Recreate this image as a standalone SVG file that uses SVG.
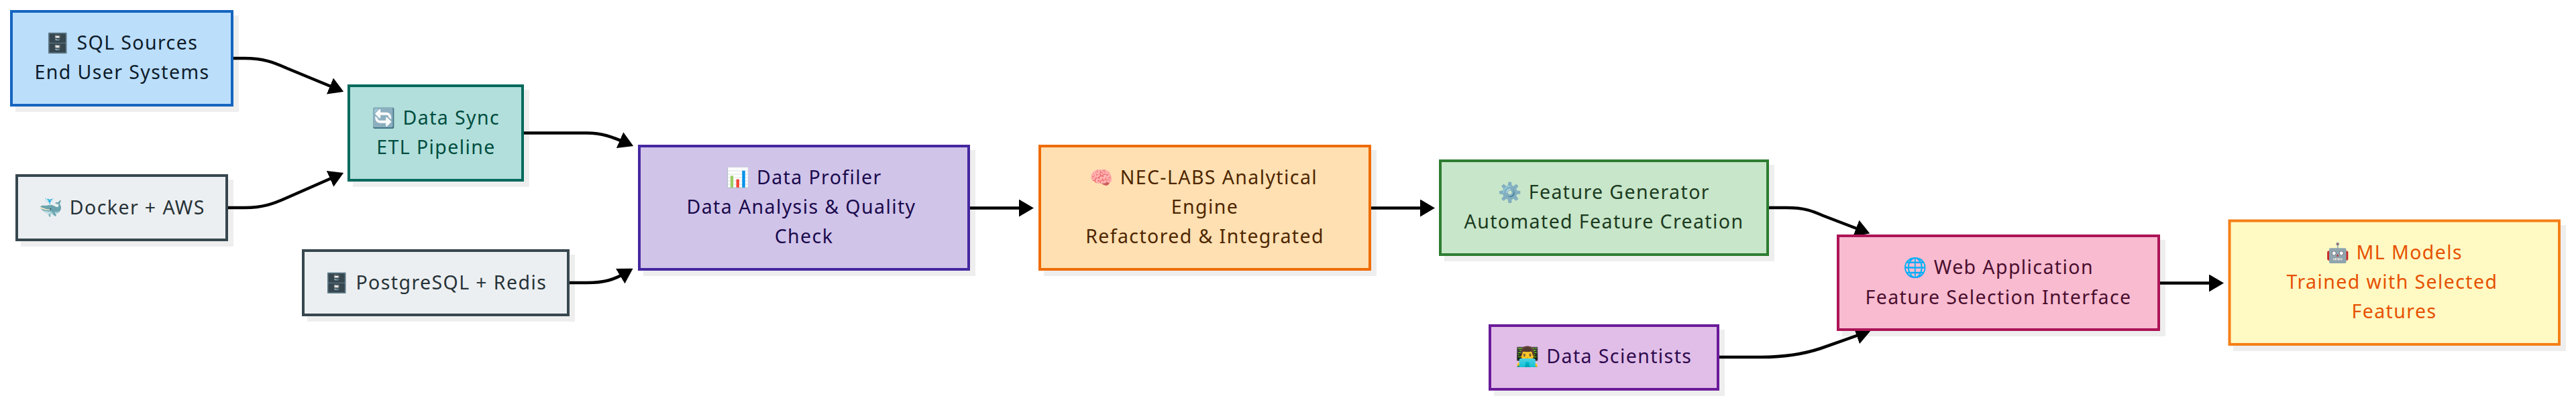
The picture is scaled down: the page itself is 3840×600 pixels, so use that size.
<svg xmlns="http://www.w3.org/2000/svg" width="3840" height="600" viewBox="0 0 3840 600">
<defs>
<style>
text{font-family:"Noto Sans","Noto Color Emoji",sans-serif;font-size:28.500px;letter-spacing:1.400px;text-anchor:middle}
.s{fill:#000;fill-opacity:.065}
rect.b{stroke-width:4}
.e{fill:none;stroke:#000;stroke-width:4.500;marker-end:url(#a)}
</style>
<marker id="a" markerUnits="userSpaceOnUse" viewBox="0 0 22 26" refX="12" refY="13" markerWidth="22" markerHeight="26" orient="auto"><path d="M0 0L22 13L0 26Z" fill="#000"/></marker>
</defs>
<rect width="3840" height="600" fill="#fff"/>
<g id="connectors">
<path class="e" d="M348 87H365C392 87 408 93 428 102L503 133"/>
<path class="e" d="M340 310H365C392 310 408 304 428 295L503 262"/>
<path class="e" d="M781 198.500H875C897 198.500 912 204 935 214"/>
<path class="e" d="M849 422H875C900 422 915 418 935 406"/>
<path class="e" d="M1446 310.500H1531"/>
<path class="e" d="M2044 310.500H2129"/>
<path class="e" d="M2637 310H2663C2690 310 2702 315 2718 322L2778 345"/>
<path class="e" d="M2563 533H2625C2660 533 2690 528 2714 520L2779 497"/>
<path class="e" d="M3220 422.500H3305"/>
</g>
<g id="n1"><rect class="s" x="23" y="23" width="333" height="144"/><rect class="b" x="17" y="17" width="329" height="140" fill="#BBDEFB" stroke="#1565C0"/><text x="182" y="74" fill="#0D1B2A">🗄️ SQL Sources</text><text x="182" y="118" fill="#0D1B2A">End User Systems</text></g>
<g id="n2"><rect class="s" x="526" y="134" width="263" height="145"/><rect class="b" x="520" y="128" width="259" height="141" fill="#B2DFDB" stroke="#00695C"/><text x="650" y="186" fill="#004D40">🔄 Data Sync</text><text x="650" y="230" fill="#004D40">ETL Pipeline</text></g>
<g id="n3"><rect class="s" x="31" y="268" width="317" height="100"/><rect class="b" x="25" y="262" width="313" height="96" fill="#ECEFF1" stroke="#37474F"/><text x="182" y="320" fill="#263238">🐳 Docker + AWS</text></g>
<g id="n4"><rect class="s" x="458" y="380" width="399" height="100"/><rect class="b" x="452" y="374" width="395" height="96" fill="#ECEFF1" stroke="#37474F"/><text x="650" y="432" fill="#263238">🗄️ PostgreSQL + Redis</text></g>
<g id="n5"><rect class="s" x="959" y="224" width="495" height="188"/><rect class="b" x="953" y="218" width="491" height="184" fill="#D1C4E9" stroke="#4527A0"/><text x="1198.500" y="275" fill="#1A0A4D">📊 Data Profiler</text><text x="1194.500" y="319" fill="#1A0A4D">Data Analysis &amp; Quality</text><text x="1198.500" y="363" fill="#1A0A4D">Check</text></g>
<g id="n6"><rect class="s" x="1556" y="224" width="496" height="188"/><rect class="b" x="1550" y="218" width="492" height="184" fill="#FFE0B2" stroke="#EF6C00"/><text x="1794" y="275" fill="#4E2600">🧠 NEC-LABS Analytical</text><text x="1796" y="319" fill="#4E2600">Engine</text><text x="1796" y="363" fill="#4E2600">Refactored &amp; Integrated</text></g>
<g id="n7"><rect class="s" x="2153" y="246" width="492" height="144"/><rect class="b" x="2147" y="240" width="488" height="140" fill="#C8E6C9" stroke="#2E7D32"/><text x="2391" y="297" fill="#1B3A1E">⚙️ Feature Generator</text><text x="2391" y="341" fill="#1B3A1E">Automated Feature Creation</text></g>
<g id="n8"><rect class="s" x="2227" y="492" width="344" height="99"/><rect class="b" x="2221" y="486" width="340" height="95" fill="#E1BEE7" stroke="#6A1B9A"/><text x="2391" y="542" fill="#2E0A4F">👨‍💻 Data Scientists</text></g>
<g id="n9"><rect class="s" x="2746" y="358" width="482" height="144"/><rect class="b" x="2740" y="352" width="478" height="140" fill="#F8BBD0" stroke="#AD1457"/><text x="2979" y="409" fill="#4A0E2E">🌐 Web Application</text><text x="2979" y="454" fill="#4A0E2E">Feature Selection Interface</text></g>
<g id="n10"><rect class="s" x="3329" y="336" width="496" height="188"/><rect class="b" x="3323.500" y="329.500" width="491.500" height="184.500" fill="#FFF9C4" stroke="#F57F17"/><text x="3569" y="387" fill="#E65100">🤖 ML Models</text><text x="3566" y="431" fill="#E65100">Trained with Selected</text><text x="3569" y="475" fill="#E65100">Features</text></g>
</svg>
